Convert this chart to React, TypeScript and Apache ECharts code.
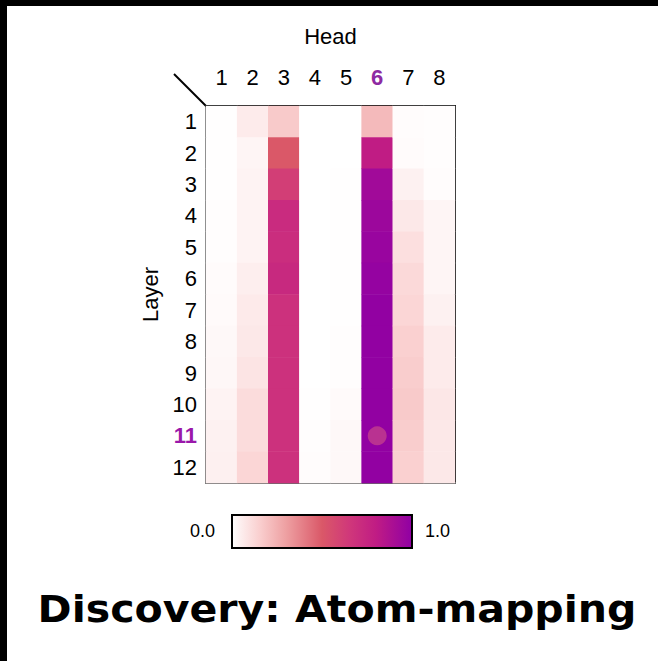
import React, { useEffect, useRef } from "react";
import * as echarts from "echarts";

const heads = ["1", "2", "3", "4", "5", "6", "7", "8"];
const layers = ["1", "2", "3", "4", "5", "6", "7", "8", "9", "10", "11", "12"];

// values per head (column), layers 1..12
const head1 = [0.005, 0.003, 0.005, 0.008, 0.008, 0.012, 0.015, 0.02, 0.025, 0.035, 0.04, 0.045];
const head2 = [0.06, 0.03, 0.035, 0.035, 0.035, 0.05, 0.065, 0.07, 0.085, 0.11, 0.11, 0.13];
const head3 = [0.17, 0.5, 0.62, 0.72, 0.71, 0.73, 0.69, 0.69, 0.69, 0.69, 0.69, 0.69];
const head4 = [0, 0, 0, 0, 0, 0, 0, 0, 0, 0.005, 0.008, 0.01];
const head5 = [0, 0, 0.004, 0.004, 0.004, 0.004, 0.005, 0.006, 0.008, 0.015, 0.02, 0.02];
const head6 = [0.22, 0.8, 0.93, 0.95, 0.965, 0.98, 0.99, 0.99, 0.99, 0.99, 0.99, 0.99];
const head7 = [0.01, 0.012, 0.04, 0.07, 0.1, 0.12, 0.13, 0.15, 0.16, 0.17, 0.16, 0.15];
const head8 = [0.008, 0.006, 0.01, 0.03, 0.03, 0.03, 0.04, 0.06, 0.06, 0.075, 0.07, 0.07];

const highlightHead = "6";
const highlightLayer = "11";
const colorTicks = ["0.0", "1.0"];

const stopOffsets = [0, 0.05, 0.15, 0.3, 0.5, 0.65, 0.8, 1];
const stopColors = ["#ffffff", "#fdeeee", "#fad0d0", "#eea0a2", "#da5868", "#d0387a", "#c01c84", "#9000a4"];

function hexToRgb(h: string) {
  const n = parseInt(h.slice(1), 16);
  return [(n >> 16) & 255, (n >> 8) & 255, n & 255];
}
function sampleColor(t: number) {
  for (let i = 1; i < stopOffsets.length; i++) {
    if (t <= stopOffsets[i]) {
      const f = (t - stopOffsets[i - 1]) / (stopOffsets[i] - stopOffsets[i - 1]);
      const a = hexToRgb(stopColors[i - 1]);
      const b = hexToRgb(stopColors[i]);
      const c = a.map((v, k) => Math.round(v + (b[k] - v) * f));
      return `rgb(${c[0]},${c[1]},${c[2]})`;
    }
  }
  return stopColors[stopColors.length - 1];
}

export default function App() {
  const ref = useRef<HTMLDivElement>(null);
  useEffect(() => {
    document.body.style.margin = "0";
    const chart = echarts.init(ref.current!, null, { renderer: "svg" });
    const cols = [head1, head2, head3, head4, head5, head6, head7, head8];
    const data: [number, number, number][] = [];
    cols.forEach((col, x) => col.forEach((v, y) => data.push([x, y, v])));

    const rampColors: string[] = [];
    for (let i = 0; i <= 100; i++) rampColors.push(sampleColor(i / 100));

    const font = "Liberation Sans, Arial, sans-serif";
    const left = 206, top = 106, width = 249, height = 377;

    chart.setOption({
      animation: false,
      backgroundColor: "#ffffff",
      grid: { left, top, width, height },
      visualMap: {
        show: false,
        min: 0,
        max: 1,
        dimension: 2,
        seriesIndex: 0,
        inRange: { color: rampColors },
      },
      xAxis: [
        {
          type: "category",
          data: heads,
          position: "bottom",
          axisLine: { lineStyle: { color: "#6b6b6b", width: 2 } },
          axisTick: { alignWithLabel: true, length: 6, lineStyle: { color: "#888", width: 1.5 } },
          axisLabel: { show: false },
          splitLine: { show: false },
        },
        {
          type: "category",
          data: heads,
          position: "top",
          name: "Head",
          nameLocation: "middle",
          nameGap: 59,
          nameTextStyle: { fontFamily: font, fontSize: 22, color: "#000" },
          axisLine: { lineStyle: { color: "#000", width: 2 } },
          axisTick: { show: false },
          axisLabel: {
            interval: 0,
            margin: 18,
            fontFamily: font,
            fontSize: 22,
            color: "#000",
            formatter: (v: string) => (v === highlightHead ? `{h|${v}}` : v),
            rich: { h: { fontFamily: font, fontSize: 22, fontWeight: "bold", color: "#8e2aa2" } },
          },
        },
      ],
      yAxis: [
        {
          type: "category",
          data: layers,
          inverse: true,
          name: "Layer",
          nameLocation: "middle",
          nameGap: 45,
          nameRotate: 90,
          nameTextStyle: { fontFamily: font, fontSize: 22, color: "#000" },
          axisLine: { lineStyle: { color: "#6b6b6b", width: 2 } },
          axisTick: { alignWithLabel: true, length: 5, lineStyle: { color: "#888", width: 1.5 } },
          axisLabel: {
            interval: 0,
            margin: 9,
            fontFamily: font,
            fontSize: 22,
            color: "#000",
            formatter: (v: string) => (v === highlightLayer ? `{h|${v}}` : v),
            rich: { h: { fontFamily: font, fontSize: 22, fontWeight: "bold", color: "#9a18aa" } },
          },
        },
        {
          type: "category",
          data: layers,
          inverse: true,
          position: "right",
          axisLine: { lineStyle: { color: "#000", width: 2 } },
          axisTick: { show: false },
          axisLabel: { show: false },
        },
      ],
      series: [
        {
          type: "heatmap",
          data,
          xAxisIndex: 0,
          yAxisIndex: 0,
          itemStyle: { borderWidth: 0 },
          emphasis: { disabled: true },
        },
        {
          type: "scatter",
          xAxisIndex: 0,
          yAxisIndex: 0,
          data: [[heads.indexOf(highlightHead), layers.indexOf(highlightLayer)]],
          symbolSize: 19,
          itemStyle: { color: "rgba(245,125,120,0.5)" },
          z: 5,
        },
      ],
      graphic: [
        { type: "rect", shape: { x: 0, y: 0, width: 658, height: 6 }, style: { fill: "#000" }, z: 100 },
        { type: "rect", shape: { x: 0, y: 0, width: 7, height: 661 }, style: { fill: "#000" }, z: 100 },
        {
          type: "line",
          shape: { x1: 174, y1: 74, x2: 206, y2: 106 },
          style: { stroke: "#000", lineWidth: 2 },
        },
        {
          type: "rect",
          shape: { x: 232, y: 515, width: 180, height: 33 },
          style: {
            fill: new echarts.graphic.LinearGradient(
              0, 0, 1, 0,
              stopOffsets.map((o, i) => ({ offset: o, color: stopColors[i] }))
            ),
            stroke: "#000",
            lineWidth: 2,
          },
        },
        {
          type: "text",
          x: 215,
          y: 531,
          style: { text: colorTicks[0], fontFamily: font, fontSize: 18, fill: "#000", align: "right", verticalAlign: "middle" },
        },
        {
          type: "text",
          x: 425,
          y: 531,
          style: { text: colorTicks[1], fontFamily: font, fontSize: 18, fill: "#000", align: "left", verticalAlign: "middle" },
        },
        {
          type: "text",
          x: 337,
          y: 609,
          scaleX: 1.11,
          style: {
            text: "Discovery: Atom-mapping",
            fontFamily: "DejaVu Sans, sans-serif",
            fontWeight: "bold",
            fontSize: 37,
            fill: "#000",
            align: "center",
            verticalAlign: "middle",
          },
        },
      ],
    });
    return () => chart.dispose();
  }, []);
  return <div ref={ref} style={{ position: "fixed", left: 0, top: 0, width: 658, height: 661 }} />;
}
